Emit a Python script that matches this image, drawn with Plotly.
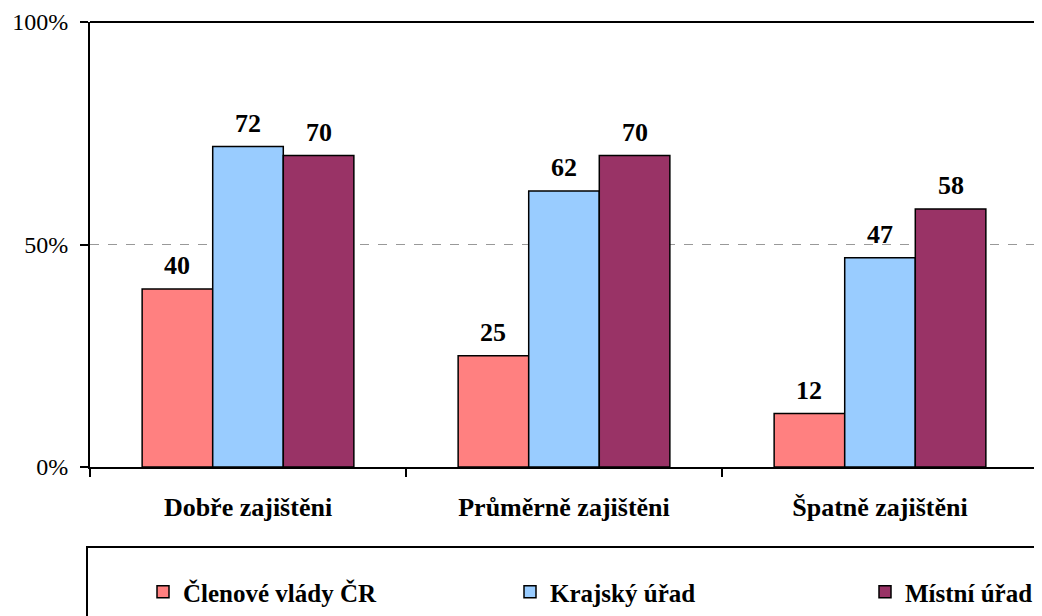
import plotly.graph_objects as go

categories = ["Dobře zajištěni", "Průměrně zajištěni", "Špatně zajištěni"]
series_names = ["Členové vlády ČR", "Krajský úřad", "Místní úřad"]
clenove = [40, 25, 12]
krajsky = [72, 62, 47]
mistni = [70, 70, 58]
colors = ["#FF8080", "#99CCFF", "#993366"]
y_ticks = [0, 50, 100]
y_tick_labels = ["0%", "50%", "100%"]

FONT = "Liberation Serif"
W, H = 1034, 608
L, R, T, B = 82, 4, 14, 149
PW = W - L - R
PH = H - T - B
BARGAP = 0.33

series = [clenove, krajsky, mistni]
fig = go.Figure()
legend_ids = ["legend", "legend2", "legend3"]
for name, vals, col, lg in zip(series_names, series, colors, legend_ids):
    fig.add_trace(go.Bar(
        name=name, x=categories, y=vals, legend=lg,
        marker=dict(color=col, line=dict(color="black", width=1.5)),
    ))

# value labels above each bar (positioned from the grouped-bar layout)
bw = (1 - BARGAP) / len(series)
ann = []
for k, vals in enumerate(series):
    off = (k - (len(series) - 1) / 2) * bw
    for i, v in enumerate(vals):
        ann.append(dict(xref="x", yref="y", x=i + off, y=v, text=str(v),
                        showarrow=False, yanchor="bottom", yshift=7,
                        font=dict(family=FONT, size=26, color="black", weight="bold")))

leg_common = dict(
    orientation="h", yanchor="middle", y=-(584 - 459) / PH, xanchor="left",
    font=dict(family=FONT, size=25, color="black", weight="bold"),
    bgcolor="rgba(0,0,0,0)",
)
leg_x_px = [135, 502, 857]
fig.update_layout(
    width=W, height=H,
    margin=dict(l=L, r=R, t=T, b=B, autoexpand=False),
    paper_bgcolor="white", plot_bgcolor="white",
    barmode="group", bargap=BARGAP, bargroupgap=0,
    font=dict(family=FONT, color="black"),
    showlegend=True,
    annotations=ann,
    legend=dict(x=(leg_x_px[0] - L) / PW, **leg_common),
    legend2=dict(x=(leg_x_px[1] - L) / PW, **leg_common),
    legend3=dict(x=(leg_x_px[2] - L) / PW, **leg_common),
    xaxis=dict(
        showline=True, linecolor="black", linewidth=2,
        ticks="outside", tickson="boundaries", ticklen=8, tickwidth=2, tickcolor="black",
        tickfont=dict(family=FONT, size=26, color="black", weight="bold"),
        ticklabelstandoff=16,
        showgrid=False,
    ),
    yaxis=dict(
        range=[0, 100], tickvals=y_ticks, ticktext=y_tick_labels,
        showline=True, linecolor="black", linewidth=2,
        ticks="outside", ticklen=8, tickwidth=2, tickcolor="black",
        tickfont=dict(family=FONT, size=24, color="black"),
        ticklabelstandoff=7,
        showgrid=True, gridcolor="#999999", griddash="dash", gridwidth=1,
        zeroline=False,
    ),
    shapes=[
        dict(type="line", xref="paper", yref="paper", x0=0, x1=1, y0=1, y1=1,
             line=dict(color="black", width=2)),
        dict(type="line", xref="paper", yref="paper", x0=1, x1=1, y0=0, y1=1,
             line=dict(color="#555555", width=1.5)),
        dict(type="rect", xref="paper", yref="paper",
             x0=(79 - L) / PW, x1=1.1,
             y0=-(640 - 459) / PH, y1=-(539 - 459) / PH,
             line=dict(color="black", width=2), fillcolor="rgba(0,0,0,0)"),
    ],
)

fig.write_html("out.html")
